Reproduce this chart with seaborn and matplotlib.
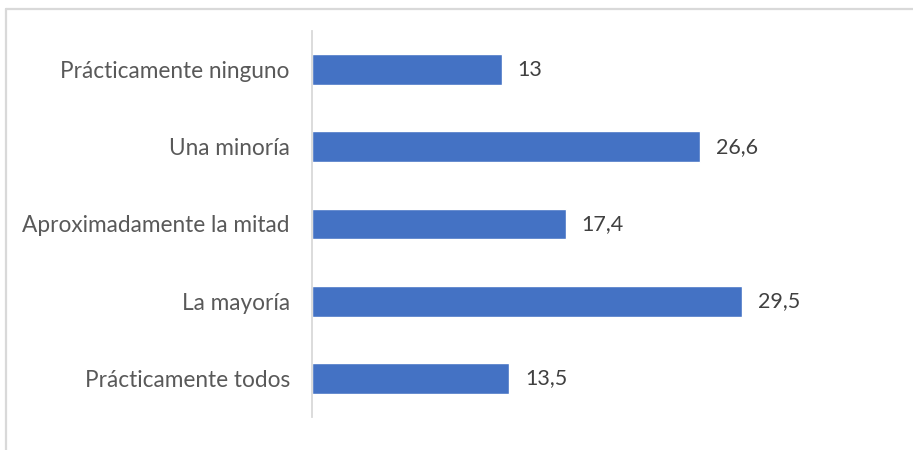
import matplotlib
matplotlib.use("Agg")
import matplotlib.pyplot as plt
from matplotlib.lines import Line2D
import seaborn as sns
import pandas as pd

categories = [
    "Prácticamente ninguno",
    "Una minoría",
    "Aproximadamente la mitad",
    "La mayoría",
    "Prácticamente todos",
]
values = [13, 26.6, 17.4, 29.5, 13.5]
value_labels = ["13", "26,6", "17,4", "29,5", "13,5"]

df = pd.DataFrame({"categoria": categories, "valor": values})

sns.set_style("white")
plt.rcParams["font.family"] = ["Lato", "DejaVu Sans"]

W, H, DPI = 913, 450, 100
fig = plt.figure(figsize=(W / DPI, H / DPI), dpi=DPI)
fig.patch.set_facecolor("white")

# plot area in pixel terms
x0, x1 = 312, 312 + 40 * 14.58
y_top, y_bot = 31, 417
ax = fig.add_axes([x0 / W, 1 - y_bot / H, (x1 - x0) / W, (y_bot - y_top) / H])

sns.barplot(data=df, x="valor", y="categoria", orient="h", color="#4472C4",
            saturation=1, width=0.4, ax=ax)

ax.set_xlim(0, 40)
ax.set_ylim(4.5, -0.5)
ax.set_xlabel("")
ax.set_ylabel("")
ax.set_xticks([])

for side in ["top", "right", "bottom"]:
    ax.spines[side].set_visible(False)
ax.spines["left"].set_color("#D9D9D9")
ax.spines["left"].set_linewidth(1.3)

ax.tick_params(axis="y", length=0, pad=16, labelsize=16.3, labelcolor="#595959")

ax.bar_label(ax.containers[0], labels=value_labels, padding=11.5,
             fontsize=15.5, color="#404040")

# outer chart border (top and left edges)
fig.add_artist(Line2D([6 / W, 1], [1 - 8.5 / H, 1 - 8.5 / H],
                      transform=fig.transFigure, color="#D9D9D9", lw=1.6))
fig.add_artist(Line2D([6 / W, 6 / W], [0, 1 - 8.5 / H],
                      transform=fig.transFigure, color="#D9D9D9", lw=1.6))

fig.savefig("out.png", dpi=DPI, facecolor="white")
